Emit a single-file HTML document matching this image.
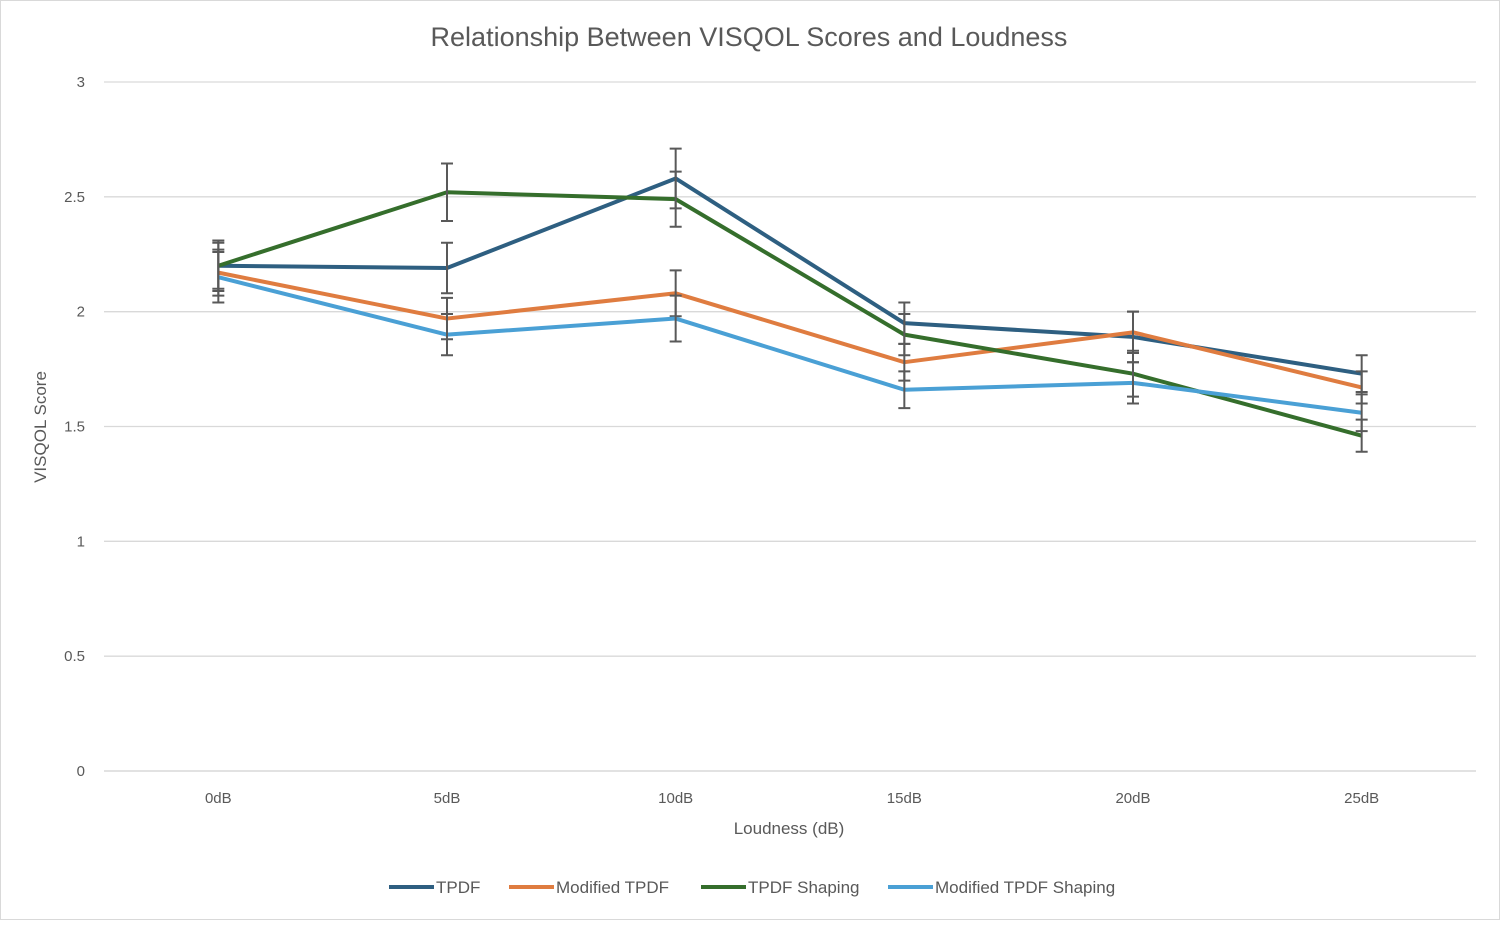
<!DOCTYPE html>
<html><head><meta charset="utf-8"><style>
body{margin:0;background:#fff;width:1500px;height:920px;overflow:hidden;font-family:"Liberation Sans",sans-serif}
svg text{font-family:"Liberation Sans",sans-serif;fill:#595959}
</style></head><body>
<svg id="chart" width="1500" height="920" xmlns="http://www.w3.org/2000/svg">
<rect x="0.5" y="0.5" width="1499" height="919" fill="#fff" stroke="#d9d9d9"/>
<text x="749" y="46" text-anchor="middle" font-size="27">Relationship Between VISQOL Scores and Loudness</text>
<text transform="translate(46,427) rotate(-90)" text-anchor="middle" font-size="17">VISQOL Score</text>
<text x="789" y="834" text-anchor="middle" font-size="17">Loudness (dB)</text>
<g id="grid"></g><g id="series"></g><g id="legend"></g>
</svg>
<script>
const categories=["0dB","5dB","10dB","15dB","20dB","25dB"];
const yTicks=[0,0.5,1,1.5,2,2.5,3];
const seriesNames=["TPDF","Modified TPDF","TPDF Shaping","Modified TPDF Shaping"];
const tpdf=[2.20,2.19,2.58,1.95,1.89,1.73];
const modTpdf=[2.17,1.97,2.08,1.78,1.91,1.67];
const tpdfShaping=[2.20,2.52,2.49,1.90,1.73,1.46];
const modTpdfShaping=[2.15,1.90,1.97,1.66,1.69,1.56];
const tpdfErr=[0.1,0.11,0.13,0.09,0.11,0.08];
const modTpdfErr=[0.1,0.09,0.1,0.08,0.09,0.07];
const tpdfShapingErr=[0.11,0.125,0.12,0.09,0.1,0.07];
const modTpdfShapingErr=[0.11,0.09,0.1,0.08,0.09,0.08];
const colors=["#2e5f81","#df7c40","#356e2c","#4aa0d5"];
const NS="http://www.w3.org/2000/svg";
const L=104,R=1476,T=82,B=771;
const x=i=>L+(R-L)/categories.length*(i+0.5);
const y=v=>B-(v/3)*(B-T);
function mk(tag,attrs,parent){const e=document.createElementNS(NS,tag);for(const k in attrs)e.setAttribute(k,attrs[k]);parent.appendChild(e);return e;}
const grid=document.getElementById('grid');
yTicks.forEach(t=>{
  const ln=mk('line',{x1:L,x2:R,y1:y(t),y2:y(t),stroke:t===0?'#d0d0d0':'#d9d9d9','stroke-width':1.3},grid);
  
  
  const tx=mk('text',{x:85,y:y(t)+5,'text-anchor':'end','font-size':15},grid);tx.textContent=t;
  
  
});
categories.forEach((c,i)=>{
  const tx=mk('text',{x:x(i),y:803,'text-anchor':'middle','font-size':15},grid);tx.textContent=c;
  
  
});
const data=[tpdf,modTpdf,tpdfShaping,modTpdfShaping];
const errs=[tpdfErr,modTpdfErr,tpdfShapingErr,modTpdfShapingErr];
const sg=document.getElementById('series');
data.forEach((d,s)=>{
  const g=mk('g',{},sg);
  
  
  const p=mk('polyline',{points:d.map((v,i)=>x(i)+','+y(v)).join(' '),fill:'none',stroke:colors[s],'stroke-width':4,'stroke-linejoin':'round'},g);
  
  
  d.forEach((v,i)=>{
    const e=errs[s][i],cx=x(i),y1=y(v+e),y2=y(v-e);
    const eb=mk('path',{d:`M${cx},${y1}V${y2}M${cx-6},${y1}H${cx+6}M${cx-6},${y2}H${cx+6}`,stroke:'#595959','stroke-width':2,fill:'none'},g);
    
    
  });
});
const lg=document.getElementById('legend');
const lx=[389,509,701,888];
seriesNames.forEach((n,s)=>{
  const g=mk('g',{},lg);
  
  
  mk('line',{x1:lx[s],x2:lx[s]+45,y1:887,y2:887,stroke:colors[s],'stroke-width':4},g);
  const t=mk('text',{x:lx[s]+47,y:893,'font-size':17},g);t.textContent=n;
});
</script>
</body></html>
